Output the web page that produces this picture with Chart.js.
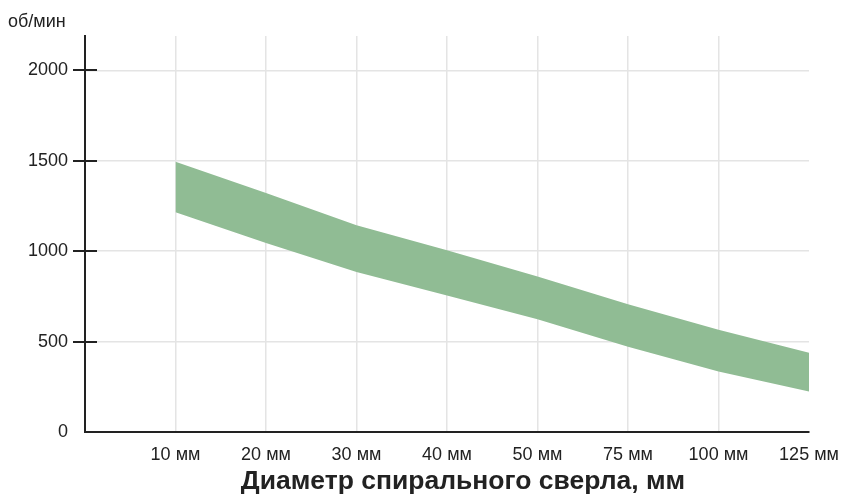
<!DOCTYPE html>
<html>
<head>
<meta charset="utf-8">
<script src="https://cdn.jsdelivr.net/npm/chart.js@4"></script>
<style>
  html, body { margin: 0; padding: 0; background: #fff; }
  #wrap { width: 848px; height: 497px; position: relative; }
</style>
</head>
<body>
<div id="wrap"><canvas id="chart"></canvas></div>
<script>
// --- Данные ---
const CATEGORIES = ['', '10 мм', '20 мм', '30 мм', '40 мм', '50 мм', '75 мм', '100 мм', '125 мм'];
const RPM_LOW = [null, 1215, 1045, 885, 755, 624, 472, 335, 224];
const RPM_HIGH = [null, 1495, 1322, 1144, 1005, 860, 707, 565, 438];
const Y_TICKS = [0, 500, 1000, 1500, 2000];

const FONT = '"Liberation Sans", Arial, Helvetica, sans-serif';
const TEXT = '#222';
const BAND = 'rgb(144, 188, 148)';

// --- Подписи и засечки ---
const extras = {
  id: 'extras',
  afterDraw(chart) {
    const ctx = chart.ctx;
    const y = chart.scales.y;
    const x = y.right;
    ctx.save();
    ctx.strokeStyle = TEXT;
    ctx.lineWidth = 2;
    Y_TICKS.filter(v => v > 0).forEach(v => {
      const py = Math.round(y.getPixelForValue(v));
      ctx.beginPath();
      ctx.moveTo(x - 12, py);
      ctx.lineTo(x + 12, py);
      ctx.stroke();
    });
    ctx.fillStyle = TEXT;
    ctx.font = '18px ' + FONT;
    ctx.textAlign = 'left';
    ctx.textBaseline = 'middle';
    ctx.fillText('об/мин', 8, 22);
    ctx.font = 'bold 26.5px ' + FONT;
    ctx.textAlign = 'center';
    ctx.fillText('Диаметр спирального сверла, мм', 463, 482);
    ctx.restore();
  }
};

new Chart(document.getElementById('chart'), {
  type: 'line',
  data: {
    labels: CATEGORIES,
    datasets: [
      {
        data: RPM_LOW,
        borderWidth: 0,
        pointRadius: 0,
        fill: false,
      },
      {
        data: RPM_HIGH,
        borderWidth: 0,
        pointRadius: 0,
        backgroundColor: BAND,
        fill: '-1',
      },
    ],
  },
  options: {
    responsive: true,
    maintainAspectRatio: false,
    animation: false,
    layout: { padding: { top: 36, right: 39, left: 0, bottom: 0 } },
    plugins: { legend: { display: false }, tooltip: { enabled: false } },
    scales: {
      x: {
        offset: false,
        afterFit: (s) => { s.height = 65; s.paddingRight = 0; s.paddingLeft = 0; },
        border: { color: TEXT, width: 2 },
        grid: {
          drawTicks: false,
          lineWidth: 1.5,
          color: (c) => (c.index === 0 || c.index === CATEGORIES.length - 1) ? 'rgba(0,0,0,0)' : '#e4e4e4',
        },
        ticks: {
          color: TEXT,
          font: { family: FONT, size: 18 },
          padding: 12,
          autoSkip: false,
          maxRotation: 0,
        },
      },
      y: {
        min: 0,
        max: 2190,
        afterFit: (s) => { s.width = 85; },
        afterBuildTicks: (s) => { s.ticks = Y_TICKS.map(v => ({ value: v })); },
        border: { color: TEXT, width: 2 },
        grid: {
          drawTicks: false,
          lineWidth: 1.5,
          color: (c) => c.tick && c.tick.value === 0 ? 'rgba(0,0,0,0)' : '#e4e4e4',
        },
        ticks: {
          color: TEXT,
          font: { family: FONT, size: 18 },
          padding: 17,
          callback: (v) => String(v),
        },
      },
    },
  },
  plugins: [extras],
});
</script>
</body>
</html>
